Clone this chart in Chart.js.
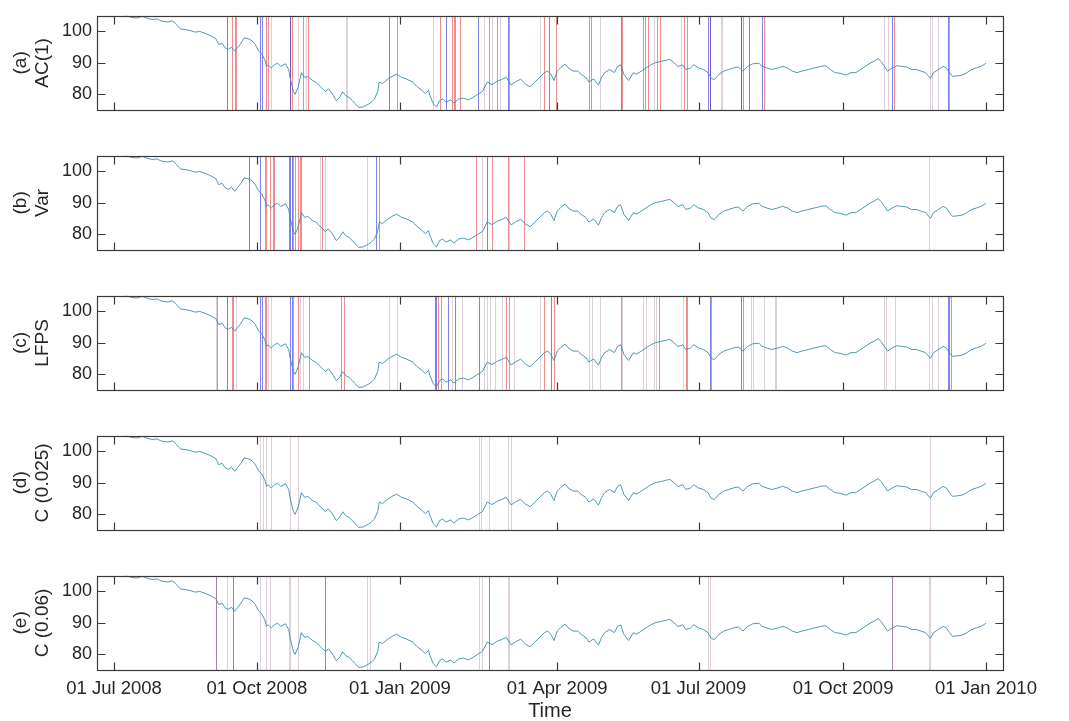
<!DOCTYPE html>
<html>
<head>
<meta charset="utf-8">
<title>Early warning signals</title>
<script src="https://cdn.jsdelivr.net/npm/chart.js@4.4.1/dist/chart.umd.min.js"></script>
<style>
  html, body { margin: 0; padding: 0; background: #fff; }
  #wrap { position: relative; width: 1069px; height: 721px; }
  #wrap canvas { position: absolute; left: 0; }
</style>
</head>
<body>
<div id="wrap"></div>
<script>
// time axis: days since 01 Jul 2008 (as laid out on the figure)
const days = [2, 6, 10, 14, 18, 21, 24, 27, 30, 34, 37, 39, 42, 45, 48, 51, 54, 58, 61, 64,
  66, 68, 70, 72, 74, 76, 78, 80, 82, 85, 87, 89, 91, 93, 95, 96, 97, 99, 101, 103,
  105, 108, 110, 111, 112, 113, 114, 116, 118, 120, 122, 125, 127, 129, 131, 133, 135, 137, 140, 142,
  144, 146, 148, 150, 152, 154, 157, 160, 162, 164, 166, 167, 169, 172, 175, 178, 181, 184, 188, 191,
  194, 196, 198, 199, 201, 203, 205, 207, 209, 212, 214, 217, 220, 223, 226, 229, 232, 235, 238, 241,
  244, 247, 250, 253, 256, 259, 262, 265, 268, 271, 273, 275, 277, 279, 281, 284, 286, 289, 292, 294,
  297, 299, 302, 305, 307, 309, 312, 315, 317, 319, 321, 324, 327, 329, 332, 335, 338, 341, 344, 348,
  350, 353, 355, 358, 360, 363, 365, 368, 371, 374, 376, 378, 381, 384, 387, 390, 393, 396, 399, 402,
  406, 408, 411, 414, 418, 421, 424, 427, 430, 433, 437, 441, 445, 448, 451, 454, 457, 461, 464, 467,
  470, 473, 476, 479, 481, 483, 485, 487, 490, 493, 496, 499, 502, 505, 508, 511, 514, 516, 519, 522,
  524, 526, 528, 531, 534, 537, 540, 543, 546, 549];

const price = [106.0, 105.4, 104.6, 104.3, 104.8, 104.2, 103.8, 104.0, 103.3, 103.0,
  103.4, 102.3, 100.8, 100.6, 100.3, 99.8, 100.0, 99.3, 98.6, 97.8,
  95.8, 96.3, 94.8, 94.3, 95.0, 93.7, 95.0, 96.3, 98.0, 97.6,
  97.0, 95.8, 93.8, 92.9, 90.9, 88.9, 89.4, 88.4, 89.4, 89.9,
  88.9, 89.7, 87.9, 84.9, 82.9, 80.8, 80.0, 82.4, 86.9, 85.4,
  85.7, 84.4, 83.9, 82.9, 81.9, 80.9, 81.7, 80.5, 78.0, 79.0,
  80.8, 79.5, 79.0, 78.0, 77.0, 75.8, 76.0, 76.8, 77.5, 78.5,
  80.9, 83.9, 83.4, 84.7, 85.7, 86.4, 85.4, 84.9, 83.9, 82.4,
  81.2, 80.2, 81.2, 79.5, 77.0, 76.0, 78.0, 78.5, 77.5, 78.2,
  77.2, 78.5, 78.8, 78.2, 79.0, 80.0, 80.9, 83.9, 83.1, 84.1,
  84.7, 85.4, 83.0, 84.0, 84.8, 83.3, 82.4, 83.9, 85.4, 86.9,
  87.4, 86.4, 84.4, 87.4, 88.4, 89.6, 88.4, 87.4, 87.4, 86.4,
  85.4, 83.9, 84.9, 82.9, 85.4, 86.9, 87.9, 86.9, 88.9, 89.4,
  86.4, 84.4, 86.9, 86.4, 87.4, 88.4, 89.4, 90.1, 90.4, 90.9,
  91.1, 89.9, 88.8, 89.4, 87.9, 88.4, 89.4, 88.4, 87.9, 86.9,
  85.1, 84.7, 86.4, 87.4, 87.9, 88.4, 88.7, 87.4, 88.9, 89.7,
  89.9, 88.9, 88.4, 87.9, 88.4, 88.9, 88.4, 87.4, 86.9, 87.4,
  87.9, 88.4, 88.9, 89.1, 87.9, 86.9, 86.7, 86.1, 86.9, 86.9,
  87.9, 88.9, 89.9, 90.7, 91.4, 90.4, 88.9, 87.4, 88.4, 89.1,
  88.9, 88.7, 87.9, 87.9, 87.4, 86.9, 85.1, 86.9, 87.9, 88.9,
  88.4, 86.9, 85.7, 85.9, 86.1, 86.9, 87.9, 88.4, 88.9, 89.9];

const tickDays = [0, 90, 180, 279, 368, 459, 549];
const tickLabels = ['01 Jul 2008', '01 Oct 2008', '01 Jan 2009', '01 Apr 2009', '01 Jul 2009', '01 Oct 2009', '01 Jan 2010'];
const yTicks = [80, 90, 100];

// warning days flagged by each indicator
const aRed = [74, 76, 77, 96, 97, 111, 112, 119, 122, 178, 205, 213, 214, 215, 218, 236, 241, 249, 271, 278,
  299, 300, 320, 333, 334, 336, 342, 344, 359, 361, 375, 395, 396, 409, 491, 526];
const aBlue = [71, 92, 93, 111, 173, 209, 229, 248, 274, 319, 374, 375, 395, 400, 408, 490, 525];
const aGrey = [99, 116, 121, 146, 147, 201, 233, 238, 243, 268, 306, 340, 357, 382, 383, 485, 487, 514, 515, 519];

const bRed = [95, 96, 98, 100, 101, 113, 114, 116, 117, 118, 131, 167, 228, 238, 248, 258];
const bBlue = [85, 92, 110, 111, 112, 165, 235];
const bGrey = [130, 133, 159, 232, 249, 513];

const cRed = [65, 74, 75, 95, 96, 113, 116, 123, 143, 145, 204, 206, 247, 249, 271, 277, 319, 343, 360, 361, 376, 396, 527];
const cBlue = [71, 92, 93, 111, 112, 202, 203, 210, 215, 230, 275, 375, 395, 525, 526];
const cGrey = [64, 77, 97, 99, 117, 119, 173, 178, 213, 219, 233, 235, 237, 240, 244, 252, 268, 299, 301, 306,
  320, 333, 335, 340, 341, 358, 401, 402, 409, 416, 417, 485, 486, 492, 513, 515, 519];

const dGrey = [92, 94, 96, 99, 111, 116, 230, 231, 236, 248, 250, 514];

const ePurple = [64, 75, 133, 236, 490];
const eGrey = [71, 92, 96, 98, 110, 111, 116, 159, 161, 230, 232, 248, 249, 374, 375, 513, 514];

const panels = [
  { title: ['(a)', 'AC(1)'], red: aRed, blue: aBlue, grey: aGrey, purple: [] },
  { title: ['(b)', 'Var'], red: bRed, blue: bBlue, grey: bGrey, purple: [] },
  { title: ['(c)', 'LFPS'], red: cRed, blue: cBlue, grey: cGrey, purple: [] },
  { title: ['(d)', 'C (0.025)'], red: [], blue: [], grey: dGrey, purple: [] },
  { title: ['(e)', 'C (0.06)'], red: [], blue: [], grey: eGrey, purple: ePurple }
];

const FONT = "'Liberation Sans', Arial, Helvetica, sans-serif";
const TXT = '#262626';

const eventLines = {
  id: 'eventLines',
  beforeDatasetsDraw(chart, args, opts) {
    const { ctx, chartArea: ca, scales: { x } } = chart;
    ctx.save();
    ctx.beginPath();
    ctx.rect(ca.left, ca.top, ca.right - ca.left, ca.bottom - ca.top);
    ctx.clip();
    ctx.lineWidth = 1;
    const groups = [
      [opts.grey, 'rgba(170,135,160,0.38)'],
      [opts.purple, 'rgba(150,80,140,0.75)'],
      [opts.red, 'rgba(225,45,45,0.55)'],
      [opts.blue, 'rgba(45,45,225,0.6)']
    ];
    groups.forEach(([list, col]) => {
      ctx.strokeStyle = col;
      (list || []).forEach(d => {
        const px = Math.round(x.getPixelForValue(d)) + 0.5;
        ctx.beginPath();
        ctx.moveTo(px, ca.top);
        ctx.lineTo(px, ca.bottom);
        ctx.stroke();
      });
    });
    ctx.restore();
  }
};

// box round the axes with inward ticks
const boxTicks = {
  id: 'boxTicks',
  afterDraw(chart) {
    const { ctx, chartArea: ca, scales: { x, y } } = chart;
    const L = Math.round(ca.left) + 0.5, R = Math.round(ca.right) + 0.5;
    const T = Math.round(ca.top) + 0.5, B = Math.round(ca.bottom) + 0.5;
    ctx.save();
    ctx.strokeStyle = '#3a3a3a';
    ctx.lineWidth = 1.2;
    ctx.strokeRect(L, T, R - L, B - T);
    ctx.beginPath();
    tickDays.forEach(v => {
      const px = Math.round(x.getPixelForValue(v)) + 0.5;
      ctx.moveTo(px, B); ctx.lineTo(px, B - 8);
      ctx.moveTo(px, T); ctx.lineTo(px, T + 8);
    });
    yTicks.forEach(v => {
      const py = Math.round(y.getPixelForValue(v)) + 0.5;
      ctx.moveTo(L, py); ctx.lineTo(L + 8, py);
      ctx.moveTo(R, py); ctx.lineTo(R - 8, py);
    });
    ctx.stroke();
    ctx.restore();
  }
};

const wrap = document.getElementById('wrap');

panels.forEach((p, i) => {
  const last = i === panels.length - 1;
  const canvas = document.createElement('canvas');
  const h = last ? 161 : 140;
  canvas.width = 1069;
  canvas.height = h;
  canvas.style.top = (i * 140) + 'px';
  canvas.style.width = '1069px';
  canvas.style.height = h + 'px';
  wrap.appendChild(canvas);

  new Chart(canvas, {
    type: 'line',
    data: {
      datasets: [{
        data: days.map((d, k) => ({ x: d, y: price[k] })),
        borderColor: 'rgb(58,140,172)',
        borderWidth: 0.9,
        pointRadius: 0,
        tension: 0,
        fill: false
      }]
    },
    options: {
      responsive: false,
      devicePixelRatio: 1,
      animation: false,
      events: [],
      layout: { autoPadding: false, padding: { left: 0, right: 66, top: 9, bottom: 0 } },
      plugins: {
        legend: { display: false },
        tooltip: { enabled: false },
        eventLines: { red: p.red, blue: p.blue, grey: p.grey, purple: p.purple }
      },
      scales: {
        x: {
          type: 'linear',
          min: -10.7,
          max: 559.7,
          afterBuildTicks: s => { s.ticks = tickDays.map(v => ({ value: v })); },
          afterFit: s => { s.height = last ? 51 : 30; },
          grid: { display: false, drawTicks: false },
          border: { display: false },
          ticks: {
            display: last,
            autoSkip: false,
            maxRotation: 0,
            padding: 8,
            color: TXT,
            font: { family: FONT, size: 18.5 },
            callback: (v, k) => tickLabels[k]
          },
          title: {
            display: last,
            text: 'Time',
            color: TXT,
            padding: 0,
            font: { family: FONT, size: 20, lineHeight: 1 }
          }
        },
        y: {
          min: 75,
          max: 105,
          afterBuildTicks: s => { s.ticks = yTicks.map(v => ({ value: v })); },
          afterFit: s => { s.width = 97; },
          grid: { display: false, drawTicks: false },
          border: { display: false },
          ticks: { padding: 5, color: TXT, font: { family: FONT, size: 18 } },
          title: {
            display: true,
            text: p.title,
            color: TXT,
            padding: { top: 10, bottom: 0 },
            font: { family: FONT, size: 19, lineHeight: 1.16 }
          }
        }
      }
    },
    plugins: [eventLines, boxTicks]
  });
});
</script>
</body>
</html>
